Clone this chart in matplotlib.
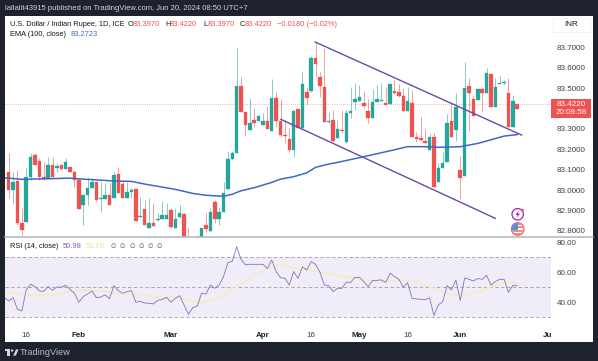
import matplotlib
matplotlib.use('Agg')
import matplotlib.pyplot as plt
from matplotlib.patches import Circle, Polygon, Rectangle

plt.rcParams['font.family'] = ['Liberation Sans', 'DejaVu Sans']

opens = [83.087, 83.000, 83.043, 82.837, 82.844, 83.063, 83.172, 83.145, 83.063, 83.058,
         83.123, 83.110, 83.123, 83.104, 83.112, 83.089, 83.050, 82.926, 82.976, 83.012,
         83.042, 82.958, 82.956, 82.976, 82.964, 83.079, 83.028, 82.964, 82.991, 83.005,
         82.868, 82.909, 82.817, 82.837, 82.855, 82.858, 82.858, 82.901, 82.817, 82.870,
         82.884, 82.764, 82.700, 82.739, 82.764, 82.829, 82.799, 82.940, 82.861, 82.895,
         83.005, 83.151, 83.180, 83.510, 83.385, 83.295, 83.344, 83.341, 83.319, 83.339,
         83.292, 83.450, 83.341, 83.270, 83.249, 83.197, 83.396, 83.303, 83.483, 83.486,
         83.646, 83.556, 83.507, 83.334, 83.344, 83.257, 83.296, 83.234, 83.376, 83.434,
         83.438, 83.425, 83.388, 83.355, 83.434, 83.437, 83.429, 83.421, 83.484, 83.481,
         83.461, 83.390, 83.425, 83.259, 83.257, 83.241, 83.197, 83.259, 83.041, 83.110,
         83.136, 83.341, 83.295, 83.099, 83.069, 83.512, 83.447, 83.443, 83.497, 83.478,
         83.569, 83.409, 83.522, 83.525, 83.475, 83.308, 83.422]
highs = [83.180, 83.087, 83.099, 82.911, 83.107, 83.180, 83.180, 83.156, 83.140, 83.164,
         83.164, 83.135, 83.123, 83.156, 83.115, 83.099, 83.058, 82.976, 83.063, 83.058,
         83.042, 83.042, 83.037, 83.037, 83.091, 83.115, 83.050, 83.042, 83.009, 83.005,
         82.968, 82.952, 82.960, 82.935, 82.886, 82.947, 82.935, 82.911, 82.911, 82.927,
         82.886, 82.821, 82.750, 82.780, 82.817, 82.886, 82.911, 82.952, 82.919, 83.042,
         83.193, 83.193, 83.695, 83.556, 83.385, 83.450, 83.401, 83.368, 83.377, 83.412,
         83.543, 83.483, 83.445, 83.344, 83.303, 83.393, 83.396, 83.581, 83.504, 83.658,
         83.720, 83.581, 83.695, 83.385, 83.393, 83.344, 83.393, 83.393, 83.504, 83.523,
         83.515, 83.486, 83.445, 83.494, 83.515, 83.523, 83.504, 83.519, 83.540, 83.519,
         83.499, 83.504, 83.491, 83.287, 83.360, 83.303, 83.282, 83.278, 83.131, 83.188,
         83.373, 83.425, 83.475, 83.167, 83.627, 83.548, 83.466, 83.499, 83.507, 83.600,
         83.576, 83.548, 83.560, 83.540, 83.548, 83.466, 83.422]
lows = [82.964, 82.932, 82.829, 82.780, 82.844, 83.050, 83.123, 83.050, 83.050, 83.058,
        83.066, 83.091, 83.099, 83.102, 83.087, 83.017, 82.906, 82.829, 82.927, 83.009,
        82.948, 82.895, 82.955, 82.927, 82.964, 82.984, 82.964, 82.964, 82.960, 82.850,
        82.866, 82.829, 82.817, 82.826, 82.850, 82.858, 82.858, 82.817, 82.817, 82.866,
        82.747, 82.730, 82.680, 82.720, 82.755, 82.796, 82.796, 82.837, 82.829, 82.895,
        83.005, 83.147, 83.180, 83.385, 83.265, 83.295, 83.311, 83.341, 83.319, 83.300,
        83.292, 83.311, 83.259, 83.229, 83.189, 83.161, 83.303, 83.300, 83.417, 83.483,
        83.556, 83.458, 83.336, 83.331, 83.238, 83.254, 83.278, 83.232, 83.352, 83.393,
        83.437, 83.401, 83.327, 83.355, 83.434, 83.437, 83.419, 83.421, 83.471, 83.458,
        83.390, 83.390, 83.259, 83.238, 83.242, 83.226, 83.197, 83.014, 83.041, 83.110,
        83.136, 83.259, 83.241, 82.956, 83.069, 83.290, 83.363, 83.441, 83.381, 83.478,
        83.409, 83.409, 83.522, 83.515, 83.311, 83.308, 83.397]
closes = [83.000, 83.040, 82.837, 82.805, 83.063, 83.161, 83.123, 83.063, 83.053, 83.123,
          83.066, 83.118, 83.104, 83.140, 83.089, 83.050, 82.908, 82.976, 83.009, 83.040,
          82.952, 82.961, 82.976, 82.927, 83.072, 82.987, 82.964, 82.989, 83.000, 82.850,
          82.871, 82.829, 82.837, 82.826, 82.858, 82.876, 82.876, 82.821, 82.858, 82.889,
          82.747, 82.739, 82.730, 82.764, 82.817, 82.809, 82.893, 82.861, 82.895, 82.984,
          83.152, 83.183, 83.510, 83.385, 83.319, 83.331, 83.331, 83.363, 83.339, 83.300,
          83.450, 83.341, 83.270, 83.265, 83.197, 83.390, 83.303, 83.519, 83.450, 83.646,
          83.617, 83.510, 83.336, 83.339, 83.243, 83.298, 83.290, 83.376, 83.388, 83.447,
          83.458, 83.412, 83.355, 83.432, 83.445, 83.440, 83.419, 83.519, 83.475, 83.461,
          83.390, 83.438, 83.259, 83.251, 83.247, 83.229, 83.259, 83.014, 83.110, 83.134,
          83.327, 83.259, 83.409, 83.061, 83.502, 83.478, 83.363, 83.497, 83.478, 83.573,
          83.409, 83.504, 83.527, 83.528, 83.311, 83.438, 83.397]

ema_bars = [-1, 3, 5, 9, 14, 17, 21, 24, 28, 31, 35, 38, 42, 45, 49, 51, 53, 56, 60, 62,
            65, 68, 70, 73, 75, 81, 87, 91, 95, 98, 103, 107, 113, 116]
ema_vals = [83.061, 83.053, 83.054, 83.056, 83.059, 83.054, 83.049, 83.045, 83.043, 83.030,
            83.015, 83.004, 82.984, 82.975, 82.970, 82.980, 82.997, 83.012, 83.038, 83.054,
            83.066, 83.085, 83.112, 83.128, 83.136, 83.164, 83.193, 83.213, 83.213, 83.210,
            83.213, 83.229, 83.265, 83.2723]

upper_bars = [69.9, 117]
upper_vals = [83.726, 83.270]
lower_bars = [62.1, 111]
lower_vals = [83.347, 82.862]

# first value sits one bar left of the first full candle
rsi_vals = [43.1, 40.9, 43.1, 35.3, 34.2, 48.2, 52.0, 50.4, 47.5, 47.3,
            50.4, 48.0, 50.2, 50.0, 51.3, 48.6, 46.0, 40.0, 43.8, 45.5,
            47.5, 43.1, 43.5, 44.9, 42.4, 51.1, 47.8, 46.0, 47.1, 47.8,
            40.0, 40.6, 39.5, 39.3, 38.9, 41.3, 41.8, 43.3, 40.0, 42.6,
            44.4, 38.2, 32.0, 36.4, 37.5, 46.0, 45.5, 51.5, 49.3, 51.5,
            57.1, 66.4, 67.3, 77.1, 68.6, 64.9, 65.3, 65.3, 65.3, 65.3,
            62.4, 68.2, 60.4, 56.4, 56.0, 51.5, 60.4, 56.0, 63.5, 61.5,
            67.1, 65.3, 60.0, 51.5, 51.1, 47.1, 49.3, 49.3, 53.3, 53.3,
            56.6, 56.6, 53.8, 50.4, 54.4, 54.6, 54.9, 53.3, 59.3, 57.1,
            55.3, 50.0, 53.1, 42.6, 42.2, 42.0, 41.8, 42.9, 31.1, 38.2,
            40.4, 51.1, 48.2, 54.9, 41.1, 56.2, 55.3, 54.2, 55.8, 55.3,
            58.0, 51.5, 53.8, 55.3, 55.3, 46.6, 51.3, 50.98]

rsi_ma_bars = [-1, 2, 5, 9, 14, 18, 22, 26, 31, 35, 38, 41, 44, 48, 52, 56, 59, 62,
               66, 70, 74, 78, 81, 85, 89, 92, 97, 100, 104, 108, 112, 115, 116]
rsi_ma_vals = [46.6, 46.0, 44.9, 44.6, 47.1, 48.2, 47.1, 45.5, 44.9, 42.6, 43.8, 41.1,
               39.8, 42.6, 50.4, 58.2, 62.6, 65.5, 62.0, 61.1, 58.2, 56.4, 55.3, 53.1,
               54.9, 54.4, 49.3, 45.5, 44.4, 47.8, 52.6, 53.5, 53.1]

price_ticks = [83.7, 83.6, 83.5, 83.3, 83.2, 83.1, 83.0, 82.9, 82.8]
rsi_ticks = [80, 60, 40]
date_bars = [4, 16, 37, 58, 69, 80, 91, 103, 123]
date_labels = ['16', 'Feb', 'Mar', 'Apr', '16', 'May', '16', 'Jun', 'Ju']

RED = '#ef5350'
GREEN = '#26a69a'
DARK = '#1e222d'
PURPLE = '#6a4aa5'
AXIS_TEXT = '#3c404b'
W, H = 598.0, 361.0
BAR_XLIM = (-0.844, 123.7)


def pane(y_top, y_bottom):
    return [5 / W, 1 - y_bottom / H, 546 / W, (y_bottom - y_top) / H]


fig = plt.figure(figsize=(5.98, 3.61), dpi=100, facecolor=DARK)

bg = fig.add_axes([0, 0, 1, 1], zorder=0)
bg.set_xlim(0, W)
bg.set_ylim(H, 0)
bg.axis('off')
bg.add_patch(Rectangle((5, 16), 588, 326, color='white', lw=0))

ax = fig.add_axes(pane(16, 236.7), zorder=1)
ax.patch.set_alpha(0)
ax.set_xlim(*BAR_XLIM)
ax.set_ylim(82.772, 83.8534)
bars = range(len(closes))
for i in bars:
    c = GREEN if closes[i] >= opens[i] else RED
    ax.vlines(i, lows[i], highs[i], color=c, lw=0.6, alpha=0.65, zorder=2)
    ax.bar(i, abs(closes[i] - opens[i]), bottom=min(opens[i], closes[i]), width=0.8,
           color=c, edgecolor=c, lw=0.2, zorder=3)
ax.axhline(closes[-1] + 0.025, color=RED, lw=0.5, ls=(0, (1, 2)), alpha=0.8, zorder=1)
ax.plot(ema_bars, ema_vals, color='#3f68c4', lw=1.1, zorder=4)
ax.plot(upper_bars, upper_vals, color=PURPLE, lw=1.0, zorder=5)
ax.plot(lower_bars, lower_vals, color=PURPLE, lw=1.0, zorder=5)
ax.yaxis.tick_right()
ax.set_yticks(price_ticks)
ax.set_yticklabels(['%.4f' % p for p in price_ticks])
ax.set_xticks([])
ax.tick_params(axis='y', length=0, pad=4.3, labelsize=5.8, labelcolor=AXIS_TEXT)
for s in ax.spines.values():
    s.set_visible(False)

rx = fig.add_axes(pane(237.6, 330), zorder=1)
rx.patch.set_alpha(0)
rx.set_xlim(*BAR_XLIM)
rx.set_ylim(21.5, 83.1)
rx.axhspan(30, 70, color='#7e57c2', alpha=0.11, lw=0)
for level in [70, 50, 30]:
    rx.axhline(level, color='#9a9ca5', lw=0.6, ls=(0, (4, 3)))
rx.plot(rsi_ma_bars, rsi_ma_vals, color='#f6ebbb', lw=1.1)
rx.plot(range(-1, len(rsi_vals) - 1), rsi_vals, color='#8272b5', lw=0.6)
rx.yaxis.tick_right()
rx.set_yticks(rsi_ticks)
rx.set_yticklabels(['%.2f' % v for v in rsi_ticks])
rx.set_xticks(date_bars)
rx.set_xticklabels(date_labels)
rx.tick_params(axis='y', length=0, pad=4.3, labelsize=5.8, labelcolor=AXIS_TEXT)
rx.tick_params(axis='x', length=0, pad=1.2, labelsize=5.8, labelcolor=AXIS_TEXT)
for t, lab in zip(rx.get_xticklabels(), date_labels):
    if lab != '16':
        t.set_fontweight('bold')
        t.set_color('#1f232e')
for s in rx.spines.values():
    s.set_visible(False)

# pixel overlay for header, legends, price tag and icons
top = fig.add_axes([0, 0, 1, 1], zorder=5)
top.set_xlim(0, W)
top.set_ylim(H, 0)
top.axis('off')
top.plot([5, 593], [236.7, 236.7], color='#b2b5be', lw=1.1)


def label(x, y, s, color='#131722', size=5.3, **kw):
    top.text(x, y, s, color=color, fontsize=size, va='center', **kw)


label(5, 8.3, 'lallalit43915 published on TradingView.com, Jun 20, 2024 08:50 UTC+7',
      color='#d1d4dc', size=5.5)
label(10, 24.4, 'U.S. Dollar / Indian Rupee, 1D, ICE')
for x, head, val in [(128, 'O', '83.3970'), (165, 'H', '83.4220'),
                     (203, 'L', '83.3970'), (240, 'C', '83.4220')]:
    label(x, 24.4, head)
    label(x + 5, 24.4, val, color=RED, size=5.4)
label(277, 24.4, '\u22120.0180 (\u22120.02%)', color=RED, size=5.4)
label(10, 34.7, 'EMA (100, close)')
label(71, 34.7, '83.2723', color='#3f68c4', size=5.4)
label(10, 247, 'RSI (14, close)')
label(63, 247, '50.98', color='#7e57c2', size=5.4)
label(86, 247, '53.10', color='#f4e08c', size=5.4)
for x in [111, 120, 130, 139, 148, 157]:
    label(x, 247, '\u2205', color='#4a4e59', size=4.6)

top.add_patch(Rectangle((553, 18), 37, 14, fc='white', ec='#f0f1f4', lw=0.6))
label(571.5, 25, 'INR', ha='center', size=5.8)

top.add_patch(Rectangle((551, 99), 39.7, 18.7, color=RED, lw=0))
label(570.8, 104, '83.4220', color='white', ha='center', size=5.8)
label(570.8, 112.6, '20:09:58', color='white', ha='center', size=5.8)

# bolt marker
top.add_patch(Circle((517.7, 214.3), 5.7, fc='white', ec='#9c27b0', lw=0.9))
top.add_patch(Polygon([(518.9, 210.6), (515.5, 215), (517.6, 215), (516.5, 218),
                       (520, 213.6), (517.9, 213.6)], color='#9c27b0', lw=0))
top.add_patch(Circle((522.3, 210.2), 1.5, color=RED, lw=0))

# flag marker
clip = Circle((517.7, 229), 6.2, transform=top.transData)
top.add_patch(Circle((517.7, 229), 6.2, fc='white', ec=RED, lw=0.9))
for y in [223, 226.4, 229.8, 233.2]:
    top.add_patch(Rectangle((511, y), 13.4, 1.7, color='#f28b82', lw=0, clip_path=clip))
top.add_patch(Rectangle((511, 223), 7, 6.6, color='#5b8fd6', lw=0, clip_path=clip))

# footer logo
top.add_patch(Rectangle((5.2, 349.4), 5.2, 2, color='#d1d4dc', lw=0))
top.add_patch(Rectangle((7.4, 349.4), 3, 6.2, color='#d1d4dc', lw=0))
top.add_patch(Circle((12.1, 350.5), 1.2, color='#d1d4dc', lw=0))
top.add_patch(Polygon([(13.2, 355.6), (16, 349.4), (18.5, 349.4), (15.8, 355.6)],
                      color='#d1d4dc', lw=0))
label(19.3, 352.8, 'TradingView', color='#b8bbc4', size=6.6)

fig.savefig('out.png', dpi=100, facecolor=fig.get_facecolor())
